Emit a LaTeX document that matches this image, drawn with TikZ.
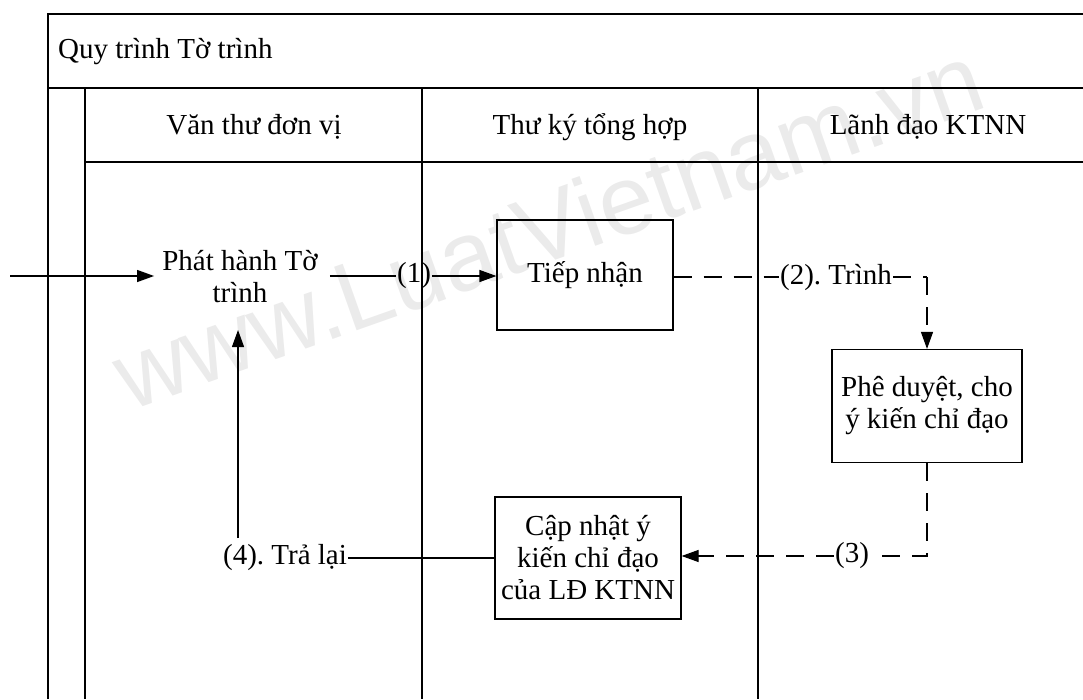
\documentclass[tikz,border=0pt]{standalone}
\usepackage{fontspec}
\setmainfont{Liberation Serif}
\newfontfamily\wmfont{Liberation Sans}
\usetikzlibrary{arrows.meta}
\frenchspacing
\tikzset{
  txt/.style={font=\fontsize{29}{32}\selectfont, inner sep=2pt, align=center},
  procbox/.style={txt, draw, line width=1.2pt},
  frame/.style={line width=1.4pt},
  conn/.style={line width=1.2pt},
  dconn/.style={conn, dash pattern=on 18pt off 12pt},
  tip/.style={-{Triangle[length=17pt,width=12pt]}},
}
\begin{document}
\begin{tikzpicture}[x=1pt,y=-1pt]
\useasboundingbox (0,0) rectangle (1083,699);
% watermark
\node[text=black!8, font=\wmfont\fontsize{98}{98}\selectfont, rotate=19.5] (wm) at (548,226) {www.LuatVietnam.vn};
% frame
\draw[frame] (48,699) -- (48,14) -- (1083,14);
\draw[frame] (48,88) -- (1083,88);
\draw[frame] (85,88) -- (85,699);
\draw[frame] (85,162) -- (1083,162);
\draw[frame] (422,88) -- (422,699);
\draw[frame] (758,88) -- (758,699);
% texts
\node[txt, anchor=west] (title) at (56,52) {Quy trình Tờ trình};
\node[txt] (h1) at (254,127) {Văn thư đơn vị};
\node[txt] (h2) at (590,127) {Thư ký tổng hợp};
\node[txt] (h3) at (928,127) {Lãnh đạo KTNN};
% nodes
\node[txt] (phat) at (240,277) {Phát hành Tờ\\trình};
\node[procbox, minimum width=176pt, minimum height=110pt] (tiep) at (585,275) {Tiếp nhận};
\node[procbox, minimum width=190pt, minimum height=113pt] (phe) at (927,406) {Phê duyệt, cho\\ý kiến chỉ đạo};
\node[procbox, minimum width=186pt, minimum height=122pt] (cap) at (588,558) {Cập nhật ý\\kiến chỉ đạo\\của LĐ KTNN};
\node[txt, inner sep=1pt] (l1) at (414,276) {(1)};
\node[txt, inner sep=1pt] (l2) at (836,277) {(2). Trình};
\node[txt, inner sep=1pt] (l3) at (852,556) {(3)};
\node[txt, inner sep=1pt] (l4) at (285,558) {(4). Trả lại};
\coordinate (start) at (10,276);
\coordinate (c2) at (927,277);
\coordinate (c3) at (927,556);
\coordinate (rb) at (238,538);
\coordinate (rt) at (238,330);
% connectors
\draw[conn, tip] (start) -- ([xshift=-6pt]phat.west |- start);
\draw[conn] ([xshift=10pt]phat.east |- l1) -- (l1.west);
\draw[conn, tip] (l1.east) -- (tiep.west |- l1);
\draw[dconn] (tiep.east |- l2) -- (l2.west);
\draw[dconn] (l2.east) -- (c2);
\draw[dconn, tip] (c2) -- (phe.north);
\draw[dconn] (phe.south) -- (c3) -- (l3.east);
\draw[dconn, tip] (l3.west) -- (cap.east |- l3);
\draw[conn] (cap.west |- l4) -- (l4.east);
\draw[conn, tip] (rb) -- (rt);
\end{tikzpicture}
\end{document}
